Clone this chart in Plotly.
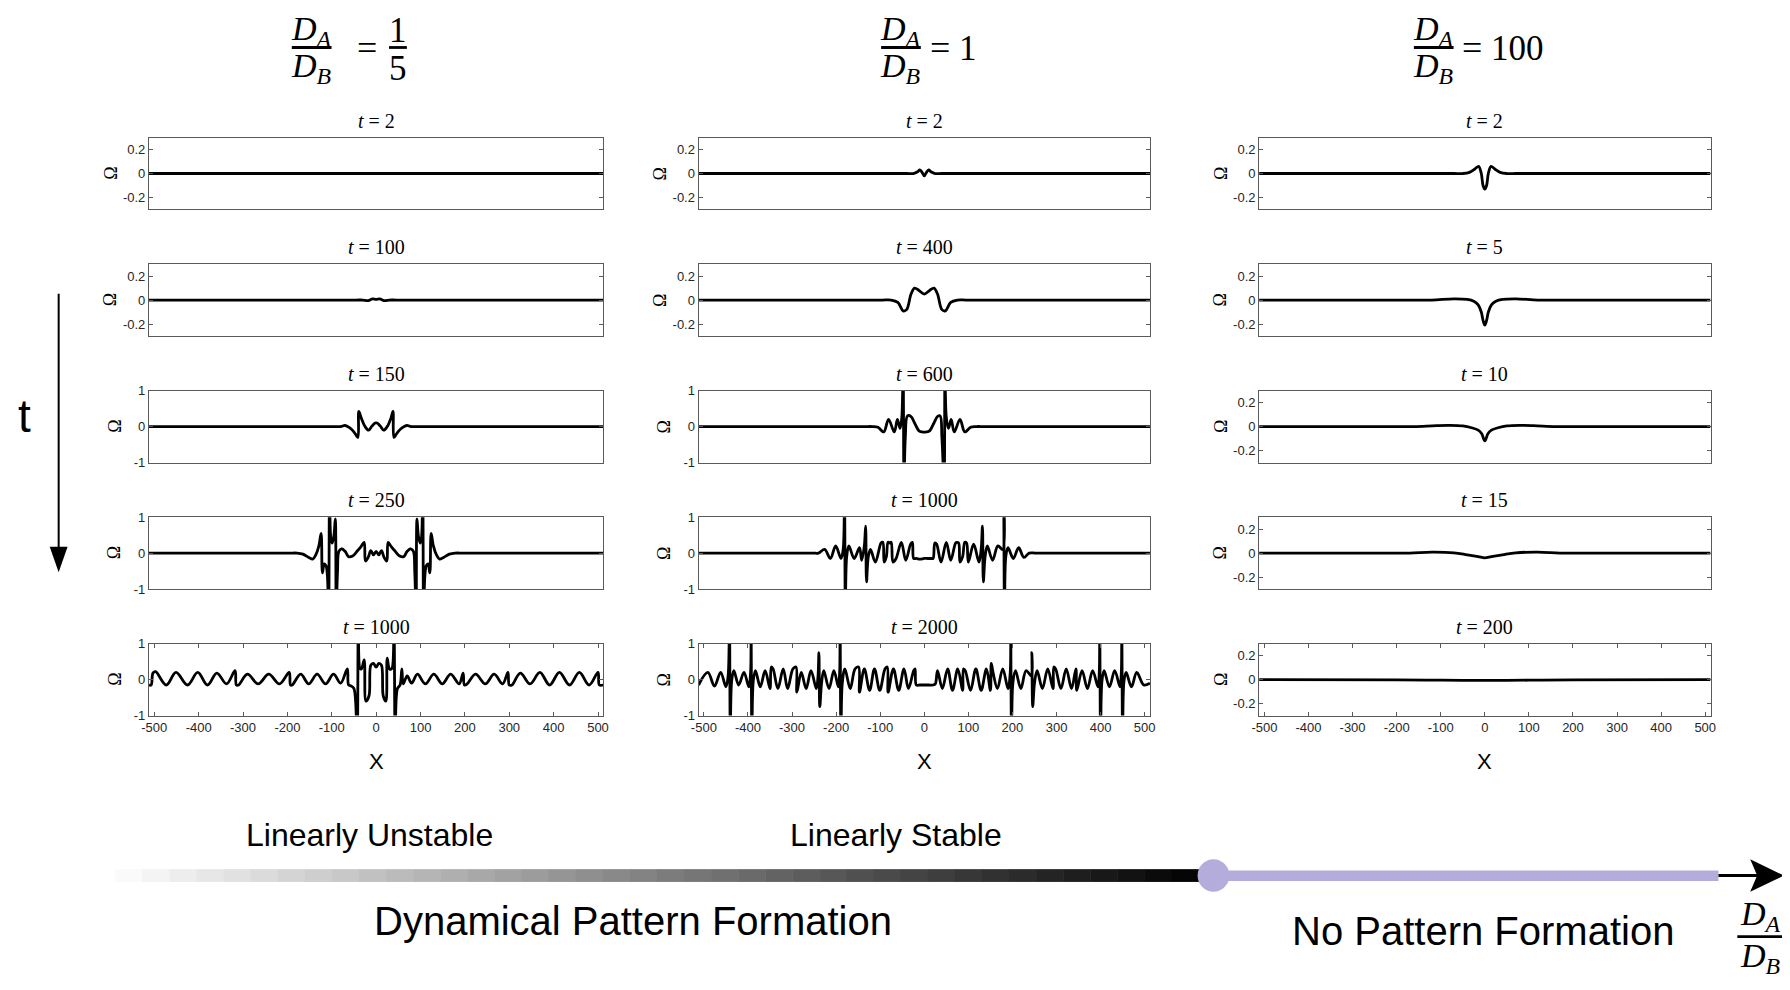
import plotly.graph_objects as go

# Page is 1790x990; the html body has an 8px margin, so the figure itself is 16px smaller.
PAGE_W, PAGE_H = 1790, 990
MARGIN = 8
W, H = PAGE_W - 2 * MARGIN, PAGE_H - 2 * MARGIN

# ---------------- data (x, Omega) ----------------
c1_t2 = [(-512, 0), (0, 0), (512, 0)]
c1_t100 = [(-512, 0), (-300, 0), (-120, 0), (-45, 0), (-30, 0), (-18, -0.004), (-8, 0.01), (0, 0.006), (8, 0.01),
           (18, -0.004), (30, 0), (45, 0), (120, 0), (300, 0), (512, 0)]
c1_t150 = [(-512, 0), (-300, 0), (-150, 0), (-100, 0), (-80, 0), (-70, 0.03), (-60, -0.03), (-52, -0.12), (-46, -0.22),
           (-41, -0.3), (-39, 0.42), (-33, 0.22), (-25, 0.0), (-17, -0.1), (-9, 0.02), (-2, 0.1), (2, 0.1), (9, 0.02),
           (17, -0.1), (25, 0.0), (33, 0.22), (38, 0.42), (40, -0.3), (45, -0.22), (51, -0.12), (59, -0.03),
           (69, 0.03), (79, 0), (100, 0), (150, 0), (300, 0), (512, 0)]
c1_t250 = [(-512, 0), (-350, 0), (-230, 0), (-195, 0), (-178, 0), (-165, -0.03), (-152, -0.12), (-143, -0.17),
           (-136, -0.05), (-129, 0.2), (-124, 0.55), (-121, -0.55), (-117, -0.3), (-113, -0.35), (-110, -0.6),
           (-107, -1.6), (-105, 1.6), (-102, 0.4), (-99, 0.28), (-95, 0.5), (-92, 0.95), (-90, -1.6), (-87, -0.5),
           (-84, 0.05), (-78, 0.12), (-70, 0.05), (-62, -0.1), (-53, -0.08), (-43, 0.05), (-34, 0.18), (-27, 0.3),
           (-24, -0.22), (-18, -0.12), (-12, 0.07), (-6, -0.05), (0, 0.05), (6, -0.05), (12, 0.07), (18, -0.12),
           (24, -0.22), (27, 0.3), (34, 0.18), (43, 0.05), (53, -0.08), (62, -0.1), (70, 0.05), (78, 0.12),
           (84, 0.05), (87, -0.5), (90, -1.6), (92, 0.95), (95, 0.5), (99, 0.28), (102, 0.4), (105, 1.6),
           (107, -1.6), (110, -0.6), (113, -0.35), (117, -0.3), (121, -0.55), (124, 0.55), (129, 0.2), (136, -0.05),
           (143, -0.17), (152, -0.12), (165, -0.03), (178, 0), (195, 0), (230, 0), (350, 0), (512, 0)]
c1_t1000 = [(-512, -0.15), (-507, -0.15), (-503, 0.18), (-497, 0.22), (-473, -0.15), (-451, 0.2), (-425, -0.15),
            (-402, 0.2), (-380, -0.15), (-359, 0.18), (-337, -0.12), (-318, 0.25), (-315, -0.15), (-310, -0.15),
            (-290, 0.15), (-266, -0.12), (-242, 0.15), (-218, -0.12), (-196, 0.2), (-193, -0.15), (-189, -0.15),
            (-170, 0.15), (-152, -0.12), (-133, 0.15), (-114, -0.12), (-96, 0.15), (-80, -0.1), (-65, 0.3),
            (-62, -0.15), (-56, -0.18), (-50, -0.25), (-43, -1.6), (-40, 1.6), (-36, 0.3), (-33, 0.3), (-27, 0.55),
            (-23, -0.6), (-16, -0.45), (-12, 0.4), (-6, 0.45), (0, 0.35), (6, 0.45), (12, 0.4), (16, -0.45),
            (22, -0.6), (25, 0.6), (30, 0.3), (35, 0.3), (40, 1.6), (43, -1.6), (48, -0.25), (54, -0.15), (58, 0.3),
            (61, -0.12), (70, 0.1), (80, -0.1), (93, 0.15), (111, -0.12), (130, 0.15), (149, -0.12), (168, 0.15),
            (187, -0.12), (196, 0.18), (199, -0.15), (205, -0.12), (224, 0.15), (246, -0.12), (266, 0.15),
            (285, -0.12), (297, 0.2), (300, -0.15), (306, -0.15), (325, 0.18), (347, -0.12), (369, 0.2),
            (391, -0.15), (413, 0.2), (436, -0.15), (458, 0.2), (480, -0.15), (500, 0.2), (503, -0.15), (512, -0.15)]

c2_t2 = [(-512, 0), (-300, 0), (-100, 0), (-40, 0), (-25, 0), (-15, 0.015), (-10, 0.03), (-5, 0.01), (0, -0.02),
         (5, 0.01), (10, 0.03), (15, 0.015), (25, 0), (40, 0), (100, 0), (300, 0), (512, 0)]
c2_t400 = [(-512, 0), (-300, 0), (-150, 0), (-95, 0), (-75, 0), (-60, -0.02), (-48, -0.09), (-40, -0.08), (-30, 0.05),
           (-22, 0.1), (-12, 0.08), (0, 0.05), (12, 0.08), (22, 0.1), (30, 0.05), (40, -0.08), (48, -0.09),
           (60, -0.02), (75, 0), (95, 0), (150, 0), (300, 0), (512, 0)]
c2_t600 = [(-512, 0), (-300, 0), (-180, 0), (-135, 0), (-118, 0), (-105, -0.02), (-92, -0.15), (-81, 0.2),
           (-68, -0.15), (-61, 0.2), (-55, -0.05), (-51, 0.25), (-48, 1.6), (-46, -1.6), (-43, -0.3), (-38, 0.3),
           (-30, 0.28), (-22, 0.1), (-12, -0.12), (-5, -0.15), (5, -0.15), (12, -0.12), (22, 0.1), (30, 0.28),
           (36, 0.3), (40, -0.3), (45, -1.6), (47, 1.6), (50, 0.25), (55, -0.05), (61, 0.2), (68, -0.15), (81, 0.2),
           (92, -0.15), (105, -0.02), (118, 0), (135, 0), (180, 0), (300, 0), (512, 0)]
c2_t1000 = [(-512, 0), (-380, 0), (-280, 0), (-252, 0), (-240, 0), (-226, 0.1), (-213, -0.15), (-201, 0.2),
            (-189, -0.15), (-184, 0.1), (-181, 1.6), (-179, -1.6), (-176, -0.1), (-171, 0.2), (-159, -0.15),
            (-147, 0.15), (-142, -0.2), (-136, 0.2), (-133, 0.75), (-131, -0.8), (-127, -0.1), (-122, 0.1),
            (-111, -0.25), (-98, 0.28), (-94, 0.3), (-91, -0.25), (-86, -0.1), (-82, 0.3), (-78, 0.28), (-75, 0.3),
            (-71, -0.25), (-64, -0.15), (-52, 0.3), (-42, -0.2), (-31, 0.25), (-27, 0.3), (-24, -0.15), (-18, -0.15),
            (-10, -0.17), (0, -0.15), (8, -0.15), (16, -0.15), (20, -0.15), (24, 0.28), (28, 0.25), (38, -0.25),
            (50, 0.3), (60, -0.2), (71, 0.28), (74, 0.3), (78, 0.28), (81, -0.25), (87, -0.1), (92, 0.3), (96, 0.28),
            (100, -0.25), (112, 0.25), (124, -0.25), (129, 0.1), (132, 0.75), (134, -0.8), (138, -0.1), (143, 0.2),
            (155, -0.2), (167, 0.2), (178, 0.1), (180, 1.6), (182, -1.6), (185, -0.1), (190, 0.15), (202, -0.15),
            (214, 0.15), (226, -0.12), (238, 0), (252, 0), (280, 0), (380, 0), (512, 0)]
c2_t2000 = [(-512, -0.15), (-491, 0.2), (-476, -0.18), (-462, 0.2), (-450, -0.2), (-445, 0.1), (-442, 1.6),
            (-440, -1.6), (-437, -0.05), (-432, 0.25), (-421, -0.15), (-409, 0.2), (-398, -0.2), (-394, 0.2),
            (-393, 1.6), (-391, -1.6), (-388, -0.05), (-383, 0.25), (-372, -0.2), (-361, 0.25), (-350, -0.25),
            (-347, 0.35), (-343, 0.3), (-332, -0.25), (-320, 0.3), (-310, -0.25), (-298, 0.3), (-291, 0.35),
            (-289, -0.35), (-279, 0.2), (-268, -0.25), (-257, 0.25), (-245, -0.25), (-241, 0.1), (-239, 0.75),
            (-237, -0.75), (-233, -0.1), (-228, 0.25), (-216, -0.25), (-205, 0.25), (-195, -0.2), (-192, 0.2),
            (-191, 1.6), (-189, -1.6), (-186, -0.1), (-180, 0.3), (-168, -0.25), (-157, 0.3), (-149, 0.35),
            (-147, -0.35), (-136, 0.3), (-124, -0.3), (-113, 0.3), (-101, -0.3), (-89, 0.3), (-84, 0.35),
            (-82, -0.35), (-70, 0.3), (-58, -0.3), (-46, 0.3), (-36, -0.25), (-24, 0.25), (-21, 0.3), (-18, -0.15),
            (-10, -0.15), (0, -0.15), (10, -0.15), (20, -0.15), (25, -0.12), (30, 0.25), (41, -0.25), (53, 0.3),
            (64, -0.3), (76, 0.3), (87, -0.3), (89, 0.3), (93, 0.25), (105, -0.3), (117, 0.3), (129, -0.3),
            (141, 0.3), (150, -0.3), (152, 0.45), (156, 0.2), (166, -0.25), (178, 0.3), (190, -0.25), (195, 0.2),
            (196, 1.6), (198, -1.6), (201, -0.1), (207, 0.25), (219, -0.25), (231, 0.25), (243, 0.1), (244, 0.75),
            (246, -0.75), (250, -0.1), (256, 0.25), (268, -0.25), (280, 0.3), (292, -0.25), (294, 0.35), (298, 0.3),
            (310, -0.25), (322, 0.3), (334, -0.25), (344, 0.3), (346, -0.3), (358, 0.25), (370, -0.25), (382, 0.25),
            (394, -0.2), (397, 0.2), (398, 1.6), (400, -1.6), (403, -0.05), (408, 0.25), (420, -0.2), (432, 0.25),
            (444, -0.2), (447, 0.2), (448, 1.6), (450, -1.6), (453, -0.05), (458, 0.2), (470, -0.2), (482, 0.2),
            (498, -0.15), (512, -0.1)]

c3_t2 = [(-512, 0), (-300, 0), (-120, 0), (-70, 0), (-50, 0), (-35, 0.01), (-22, 0.04), (-14, 0.06), (-8, 0.0),
         (-4, -0.1), (0, -0.13), (4, -0.1), (8, 0.0), (14, 0.06), (22, 0.04), (35, 0.01), (50, 0), (70, 0), (120, 0),
         (300, 0), (512, 0)]
c3_t5 = [(-512, 0), (-300, 0), (-170, 0), (-120, 0), (-70, 0.01), (-40, 0.005), (-25, -0.01), (-15, -0.04),
         (-8, -0.1), (-4, -0.17), (0, -0.21), (4, -0.17), (8, -0.1), (15, -0.04), (25, -0.01), (40, 0.005),
         (70, 0.01), (120, 0), (170, 0), (300, 0), (512, 0)]
c3_t10 = [(-512, 0), (-320, 0), (-200, 0), (-160, 0), (-110, 0.008), (-80, 0.01), (-50, 0.005), (-30, -0.01),
          (-15, -0.03), (-7, -0.06), (0, -0.12), (7, -0.06), (15, -0.03), (30, -0.01), (50, 0.005), (80, 0.01),
          (110, 0.008), (160, 0), (200, 0), (320, 0), (512, 0)]
c3_t15 = [(-512, 0), (-330, 0), (-210, 0), (-170, 0), (-120, 0.008), (-70, 0.002), (-40, -0.015), (-15, -0.03),
          (0, -0.04), (15, -0.03), (40, -0.015), (70, 0.002), (120, 0.008), (170, 0), (210, 0), (330, 0), (512, 0)]
c3_t200 = [(-512, 0), (-200, -0.002), (-100, -0.005), (0, -0.006), (100, -0.005), (200, -0.002), (512, 0)]

col_series = [[c1_t2, c1_t100, c1_t150, c1_t250, c1_t1000],
              [c2_t2, c2_t400, c2_t600, c2_t1000, c2_t2000],
              [c3_t2, c3_t5, c3_t10, c3_t15, c3_t200]]
col_times = [["2", "100", "150", "250", "1000"],
             ["2", "400", "600", "1000", "2000"],
             ["2", "5", "10", "15", "200"]]
col_ylim = [[0.3, 0.3, 1, 1, 1], [0.3, 0.3, 1, 1, 1], [0.3, 0.3, 0.3, 0.3, 0.3]]
x_ticks = [-500, -400, -300, -200, -100, 0, 100, 200, 300, 400, 500]
x_tick_text = ["-500", "-400", "-300", "-200", "-100", "0", "100", "200", "300", "400", "500"]
ratio_labels = ["1/5", "1", "100"]

# ---------------- layout geometry (page pixels) ----------------
col_l = [142, 696, 1261]
col_r = [600, 1151, 1716]
row_t = [132.5, 261, 389.5, 518, 646.5]
ph = 73


def px(x):
    return (x - MARGIN) / W


def py(y):
    return 1 - (y - MARGIN) / H


fig = go.Figure()
layout = dict(width=W, height=H, margin=dict(l=0, r=0, t=0, b=0), paper_bgcolor="white",
              plot_bgcolor="white", showlegend=False)
annotations = []
shapes = []
AX = "#5a5a5a"
TICKFONT = dict(family="Liberation Sans, Arial", size=13, color="#262626")
SERIF = "Liberation Serif, Times New Roman, serif"
SANS = "Liberation Sans, Arial, sans-serif"

for c in range(3):
    for r in range(5):
        idx = c * 5 + r + 1
        xa = "x" if idx == 1 else f"x{idx}"
        ya = "y" if idx == 1 else f"y{idx}"
        pts = col_series[c][r]
        fig.add_trace(go.Scatter(x=[p[0] for p in pts], y=[p[1] for p in pts], mode="lines",
                                 line=dict(color="black", width=2.8, shape="spline", smoothing=1.0),
                                 xaxis=xa, yaxis=ya, hoverinfo="skip"))
        lim = col_ylim[c][r]
        if lim == 1:
            yt, ytt = [-1, 0, 1], ["-1", "0", "1"]
        else:
            yt, ytt = [-0.2, 0, 0.2], ["-0.2", "0", "0.2"]
        last = (r == 4)
        layout[f"xaxis{'' if idx == 1 else idx}"] = dict(
            domain=[px(col_l[c]), px(col_r[c])], range=[-512, 512], anchor=ya,
            showgrid=False, zeroline=False, showline=True, linecolor=AX, linewidth=1,
            mirror="ticks" if last else True, ticks="inside" if last else "", ticklen=4, tickcolor=AX,
            tickvals=x_ticks, ticktext=x_tick_text, showticklabels=last, tickfont=TICKFONT, fixedrange=True)
        layout[f"yaxis{'' if idx == 1 else idx}"] = dict(
            domain=[py(row_t[r] + ph), py(row_t[r])], range=[-lim, lim], anchor=xa,
            showgrid=False, zeroline=False, showline=True, linecolor=AX, linewidth=1,
            mirror="ticks", ticks="inside", ticklen=4, tickcolor=AX,
            tickvals=yt, ticktext=ytt, tickfont=TICKFONT, fixedrange=True)
        cx = (col_l[c] + col_r[c]) / 2
        annotations.append(dict(text=f"<i>t</i> = {col_times[c][r]}", x=px(cx), y=py(row_t[r] - 17),
                                xref="paper", yref="paper", showarrow=False, xanchor="center", yanchor="middle",
                                font=dict(family=SERIF, size=20, color="black")))
        off = 35 if lim == 1 else 39
        annotations.append(dict(text="Ω", x=px(col_l[c] - off), y=py(row_t[r] + ph / 2), xref="paper",
                                yref="paper", showarrow=False, textangle=-90, xanchor="center", yanchor="middle",
                                font=dict(family=SERIF, size=18, color="black")))
    cx = (col_l[c] + col_r[c]) / 2
    annotations.append(dict(text="X", x=px(cx), y=py(766), xref="paper", yref="paper", showarrow=False,
                            xanchor="center", yanchor="middle", font=dict(family=SANS, size=22, color="black")))


# ---------------- headers: D_A / D_B = ratio ----------------
def frac(cx, bar_y, half_w, top, bot, size=34, italic=True, up=17, down=21):
    fmt = (lambda s: f"<i>{s}</i>") if italic else (lambda s: s)
    annotations.append(dict(text=fmt(top), x=px(cx), y=py(bar_y - up), xref="paper", yref="paper",
                            showarrow=False, xanchor="center", yanchor="middle",
                            font=dict(family=SERIF, size=size, color="black")))
    annotations.append(dict(text=fmt(bot), x=px(cx), y=py(bar_y + down), xref="paper", yref="paper",
                            showarrow=False, xanchor="center", yanchor="middle",
                            font=dict(family=SERIF, size=size, color="black")))
    shapes.append(dict(type="line", xref="paper", yref="paper", x0=px(cx - half_w), x1=px(cx + half_w),
                       y0=py(bar_y), y1=py(bar_y), line=dict(color="black", width=2.8)))


DA = "D<sub>A</sub>"
DB = "D<sub>B</sub>"
header_cx = [306, 900, 1437]
eq_cx = [362, 939, 1476]
for c in range(3):
    frac(header_cx[c], 41, 20, DA, DB)
    annotations.append(dict(text="=", x=px(eq_cx[c]), y=py(42), xref="paper", yref="paper", showarrow=False,
                            xanchor="center", yanchor="middle", font=dict(family=SERIF, size=36, color="black")))
    lab = ratio_labels[c]
    if "/" in lab:
        n, d = lab.split("/")
        frac(393, 41, 9, n, d, size=35, italic=False)
    else:
        annotations.append(dict(text=lab, x=px(eq_cx[c] + 17), y=py(42), xref="paper", yref="paper",
                                showarrow=False, xanchor="left", yanchor="middle",
                                font=dict(family=SERIF, size=35, color="black")))

# ---------------- time arrow on the left ----------------
annotations.append(dict(text="t", x=px(17), y=py(415), xref="paper", yref="paper", showarrow=False,
                        xanchor="center", yanchor="middle", font=dict(family=SANS, size=46, color="black")))
shapes.append(dict(type="line", xref="paper", yref="paper", x0=px(51), x1=px(51), y0=py(291), y1=py(552),
                   line=dict(color="black", width=2)))
shapes.append(dict(type="path", xref="paper", yref="paper",
                   path=f"M {px(42)} {py(548)} L {px(60)} {py(548)} L {px(51)} {py(574)} Z",
                   fillcolor="black", line=dict(color="black", width=0)))

# ---------------- bottom ratio axis ----------------
BAR_Y = 882
n_steps = 40
g_x0, g_x1 = 108, 1200
step = (g_x1 - g_x0) / n_steps
for i in range(n_steps):
    g = int(round(250 - (245 * i / (n_steps - 1))))
    col = f"rgb({g},{g},{g})"
    shapes.append(dict(type="rect", xref="paper", yref="paper", x0=px(g_x0 + i * step),
                       x1=px(g_x0 + (i + 1) * step + 0.5),
                       y0=py(BAR_Y + 6.5), y1=py(BAR_Y - 6.5), fillcolor=col, line=dict(width=0)))
PURPLE = "rgb(180,173,219)"
shapes.append(dict(type="rect", xref="paper", yref="paper", x0=px(1212), x1=px(1724), y0=py(BAR_Y + 5.5),
                   y1=py(BAR_Y - 5), fillcolor=PURPLE, line=dict(width=0)))
shapes.append(dict(type="line", xref="paper", yref="paper", x0=px(1724), x1=px(1768), y0=py(BAR_Y), y1=py(BAR_Y),
                   line=dict(color="black", width=3)))
shapes.append(dict(type="path", xref="paper", yref="paper",
                   path=f"M {px(1756)} {py(BAR_Y - 16.5)} L {px(1790)} {py(BAR_Y)} L {px(1756)} {py(BAR_Y + 16.5)} L {px(1763)} {py(BAR_Y)} Z",
                   fillcolor="black", line=dict(color="black", width=0)))
shapes.append(dict(type="circle", xref="paper", yref="paper", x0=px(1199), x1=px(1231), y0=py(BAR_Y + 16.5),
                   y1=py(BAR_Y - 16.5), fillcolor=PURPLE, line=dict(width=0)))

annotations.append(dict(text="Linearly Unstable", x=px(364), y=py(841), xref="paper", yref="paper",
                        showarrow=False, xanchor="center", yanchor="middle",
                        font=dict(family=SANS, size=32, color="black")))
annotations.append(dict(text="Linearly Stable", x=px(895), y=py(841), xref="paper", yref="paper",
                        showarrow=False, xanchor="center", yanchor="middle",
                        font=dict(family=SANS, size=32, color="black")))
annotations.append(dict(text="Dynamical Pattern Formation", x=px(630), y=py(928), xref="paper", yref="paper",
                        showarrow=False, xanchor="center", yanchor="middle",
                        font=dict(family=SANS, size=40, color="black")))
annotations.append(dict(text="No Pattern Formation", x=px(1487), y=py(938), xref="paper", yref="paper",
                        showarrow=False, xanchor="center", yanchor="middle",
                        font=dict(family=SANS, size=40, color="black")))
frac(1766, 944, 23, DA, DB, size=34, up=21, down=22)

layout["annotations"] = annotations
layout["shapes"] = shapes
fig.update_layout(**layout)
fig.write_html("out.html")
